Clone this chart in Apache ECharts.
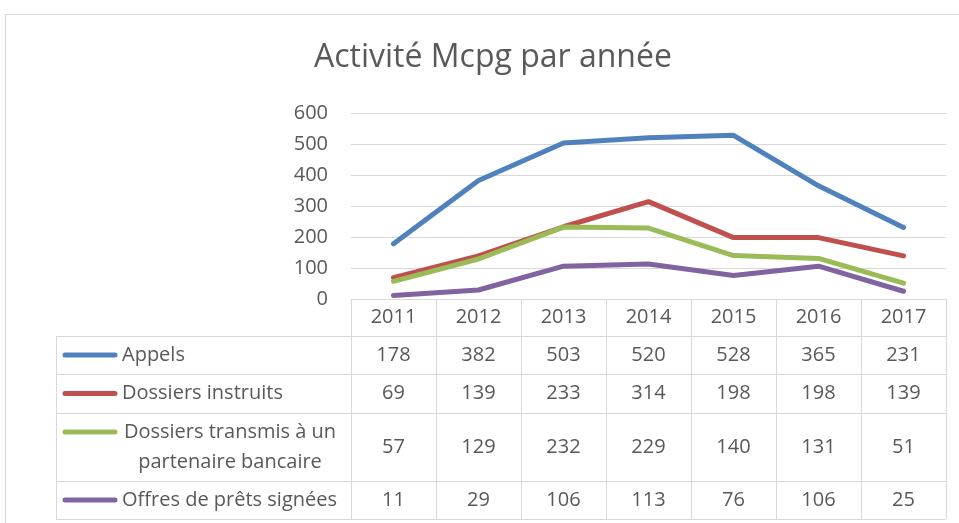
<!DOCTYPE html>
<html>
<head>
<meta charset="utf-8">
<script src="https://cdn.jsdelivr.net/npm/echarts@6/dist/echarts.min.js"></script>
<style>
  html, body { margin: 0; padding: 0; background: #fff; }
  #chart { width: 959px; height: 523px; }
</style>
</head>
<body>
<div id="chart"></div>
<script>
// data
const years = ['2011', '2012', '2013', '2014', '2015', '2016', '2017']
const appels = [178, 382, 503, 520, 528, 365, 231]
const dossiersInstruits = [69, 139, 233, 314, 198, 198, 139]
const dossiersTransmis = [57, 129, 232, 229, 140, 131, 51]
const offresSignees = [11, 29, 106, 113, 76, 106, 25]
const seriesNames = ['Appels', 'Dossiers instruits', 'Dossiers transmis à un\npartenaire bancaire', 'Offres de prêts signées']
const yTicks = [0, 100, 200, 300, 400, 500, 600]

const allSeries = [appels, dossiersInstruits, dossiersTransmis, offresSignees]
const colors = ['#4F81BD', '#C0504D', '#9BBB59', '#8064A2']
const textColor = '#595959'
const gridColor = '#D9D9D9'
const font = '"Open Sans", "Noto Sans", sans-serif'

// table rows (layout)
const rowLines = [336, 374, 413, 481, 519]
const tableLeft = 56

const chart = echarts.init(document.getElementById('chart'), null, { renderer: 'canvas' })

chart.setOption({
  animation: false,
  title: {
    text: 'Activité Mcpg par année',
    left: 309,
    top: 37,
    textStyle: { color: textColor, fontSize: 32, fontWeight: 'normal', fontFamily: font }
  },
  grid: { left: 351, right: 13, top: 113, bottom: 224, containLabel: false },
  xAxis: {
    type: 'category',
    data: years,
    boundaryGap: true,
    axisLine: { lineStyle: { color: gridColor, width: 1 } },
    axisTick: { show: true, length: 220, lineStyle: { color: gridColor, width: 1 } },
    axisLabel: { color: textColor, fontSize: 20, fontFamily: font, margin: 8 }
  },
  yAxis: {
    type: 'value',
    min: yTicks[0],
    max: yTicks[yTicks.length - 1],
    interval: 100,
    axisLine: { show: false },
    axisTick: { show: false },
    axisLabel: { color: textColor, fontSize: 20, fontFamily: font, margin: 23 },
    splitLine: { lineStyle: { color: gridColor, width: 1 } }
  },
  series: allSeries.map((vals, i) => ({
    name: seriesNames[i],
    type: 'line',
    data: vals,
    symbol: 'none',
    lineStyle: { color: colors[i], width: 5, cap: 'round', join: 'round' },
    itemStyle: { color: colors[i] }
  }))
})

// data table drawn from the arrays
const elements = []
elements.push({
  type: 'rect',
  shape: { x: 5.5, y: 14.5, width: 1000, height: 600 },
  style: { fill: 'none', stroke: gridColor, lineWidth: 1 },
  silent: true
})
const x0 = chart.convertToPixel({ xAxisIndex: 0 }, years[0])
const x1 = chart.convertToPixel({ xAxisIndex: 0 }, years[1])
const colW = x1 - x0
const tableRight = chart.convertToPixel({ xAxisIndex: 0 }, years[years.length - 1]) + colW / 2
rowLines.forEach(y => {
  elements.push({
    type: 'line',
    shape: { x1: tableLeft, y1: y + 0.5, x2: tableRight, y2: y + 0.5 },
    style: { stroke: gridColor, lineWidth: 1 },
    silent: true
  })
})
elements.push({
  type: 'line',
  shape: { x1: tableLeft + 0.5, y1: rowLines[0], x2: tableLeft + 0.5, y2: rowLines[rowLines.length - 1] },
  style: { stroke: gridColor, lineWidth: 1 },
  silent: true
})
allSeries.forEach((vals, i) => {
  const yc = (rowLines[i] + rowLines[i + 1]) / 2
  const multi = seriesNames[i].indexOf('\n') >= 0
  const keyY = multi ? yc - 15 : yc
  elements.push({
    type: 'line',
    shape: { x1: 65, y1: keyY, x2: 115, y2: keyY },
    style: { stroke: colors[i], lineWidth: 5, lineCap: 'round' },
    silent: true
  })
  elements.push({
    type: 'text',
    x: multi ? 230 : 122,
    y: yc,
    style: {
      text: seriesNames[i],
      fill: textColor,
      font: '20px ' + font,
      align: multi ? 'center' : 'left',
      verticalAlign: 'middle',
      lineHeight: 30
    },
    silent: true
  })
  vals.forEach((v, j) => {
    elements.push({
      type: 'text',
      x: chart.convertToPixel({ xAxisIndex: 0 }, years[j]),
      y: yc,
      style: {
        text: String(v),
        fill: textColor,
        font: '20px ' + font,
        align: 'center',
        verticalAlign: 'middle'
      },
      silent: true
    })
  })
})
chart.setOption({ graphic: { elements: elements } })
</script>
</body>
</html>
